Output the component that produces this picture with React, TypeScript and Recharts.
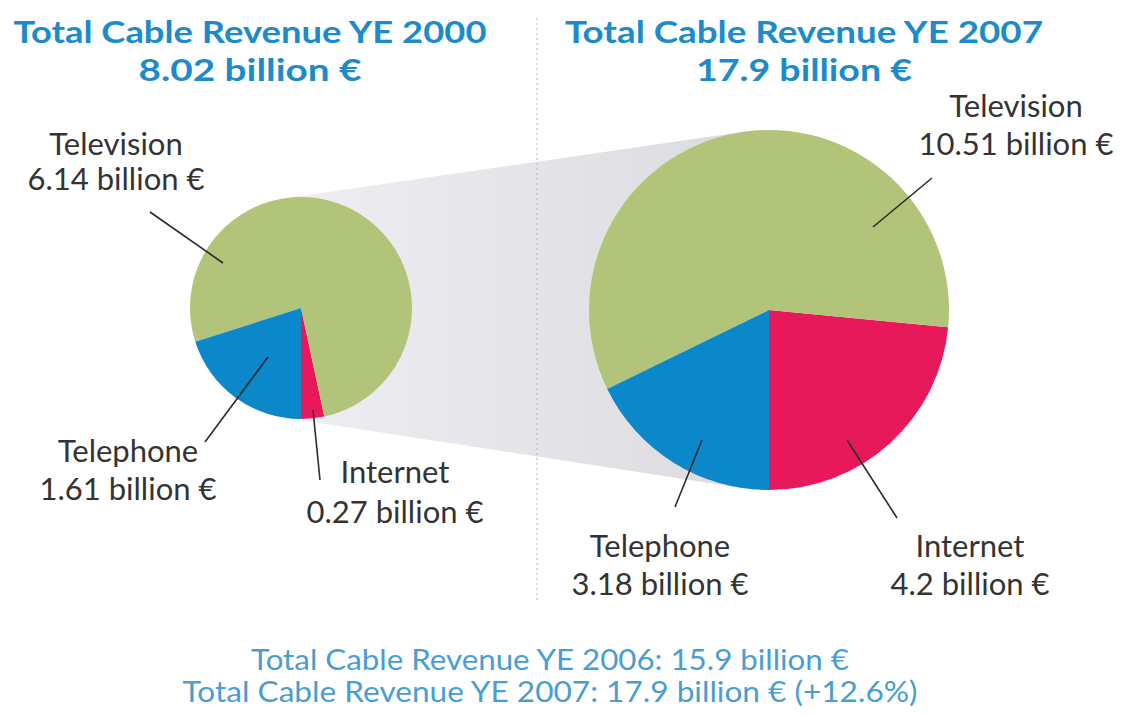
import React from 'react';
import { PieChart, Pie, Cell } from 'recharts';

// ---- data ----
const categories = ['Internet', 'Television', 'Telephone'];
const values2000 = [0.27, 6.14, 1.61];
const values2007 = [4.2, 10.51, 3.18];
const years = ['2000', '2007'];
const totalLabels = ['8.02', '17.9'];
const footerLines = [
  'Total Cable Revenue YE 2006: 15.9 billion €',
  'Total Cable Revenue YE 2007: 17.9 billion € (+12.6%)',
];

const data2000 = categories.map((name, i) => ({ name, value: values2000[i] }));
const data2007 = categories.map((name, i) => ({ name, value: values2007[i] }));

// ---- styles / layout ----
const COLORS: Record<string, string> = {
  Internet: '#e8195b',
  Television: '#b2c47a',
  Telephone: '#0a88c9',
};
const W = 1121;
const H = 715;
const FONT = 'Lato, "Open Sans", sans-serif';
const TITLE_COLOR = '#1b8bcb';
const FOOT_COLOR = '#4a9dd0';
const LABEL_COLOR = '#333333';

const LEFT = { cx: 301, cy: 308, r: 111 };
const RIGHT = { cx: 769, cy: 310, r: 180 };

type LabelLayout = Record<string, { line: number[]; tx: number; ty1: number; ty2: number }>;

const layoutLeft: LabelLayout = {
  Television: { line: [-151, -96, -78, -45], tx: -185, ty1: -153, ty2: -118 },
  Telephone: { line: [-33, 49, -96, 134], tx: -173, ty1: 154, ty2: 192 },
  Internet: { line: [12, 102, 19, 172], tx: 94, ty1: 175, ty2: 215 },
};
const layoutRight: LabelLayout = {
  Television: { line: [104, -83, 163, -132], tx: 247, ty1: -193, ty2: -155 },
  Telephone: { line: [-67, 130, -94, 197], tx: -109, ty1: 247, ty2: 285 },
  Internet: { line: [78, 130, 128, 208], tx: 201, ty1: 247, ty2: 285 },
};

const titleSpecs = [
  { cx: 250, w1: 473, w2: 223 },
  { cx: 804, w1: 478, w2: 216 },
];

const makeLabel = (layout: LabelLayout) => (props: any) => {
  const { cx, cy, name, value } = props;
  const l = layout[name];
  if (!l) return null;
  return (
    <g key={`lbl-${name}`}>
      <line
        x1={cx + l.line[0]}
        y1={cy + l.line[1]}
        x2={cx + l.line[2]}
        y2={cy + l.line[3]}
        stroke="#2b2b2b"
        strokeWidth={1.6}
      />
      <text x={cx + l.tx} y={cy + l.ty1} textAnchor="middle" fill={LABEL_COLOR} fontFamily={FONT} fontSize={31}>
        {name}
      </text>
      <text x={cx + l.tx} y={cy + l.ty2} textAnchor="middle" fill={LABEL_COLOR} fontFamily={FONT} fontSize={31}>
        {`${value} billion €`}
      </text>
    </g>
  );
};

function tangentBand(a: typeof LEFT, b: typeof LEFT): string {
  const dx = b.cx - a.cx;
  const dy = b.cy - a.cy;
  const d = Math.hypot(dx, dy);
  const theta = Math.atan2(dy, dx);
  const g = Math.acos((a.r - b.r) / d);
  const pts: number[][] = [];
  const p1 = theta - g;
  const p2 = theta + g;
  pts.push([a.cx + a.r * Math.cos(p1), a.cy + a.r * Math.sin(p1)]);
  pts.push([b.cx + b.r * Math.cos(p1), b.cy + b.r * Math.sin(p1)]);
  pts.push([b.cx + b.r * Math.cos(p2), b.cy + b.r * Math.sin(p2)]);
  pts.push([a.cx + a.r * Math.cos(p2), a.cy + a.r * Math.sin(p2)]);
  return pts.map((p) => p.join(',')).join(' ');
}

export default function App() {
  return (
    <div style={{ position: 'absolute', left: 0, top: 0, width: W, height: H, background: '#ffffff', overflow: 'hidden' }}>
      <svg width={W} height={H} style={{ position: 'absolute', left: 0, top: 0 }}>
        <defs>
          <linearGradient id="bandGrad" x1="0" y1="0" x2="1" y2="0">
            <stop offset="0%" stopColor="#efeef2" />
            <stop offset="100%" stopColor="#dcdbe0" />
          </linearGradient>
        </defs>
        <polygon points={tangentBand(LEFT, RIGHT)} fill="url(#bandGrad)" />
        <line x1={537} y1={18} x2={537} y2={602} stroke="#b5b5b5" strokeWidth={1} strokeDasharray="2,3" />
        {years.map((y, i) => (
          <g key={y}>
            <text
              x={titleSpecs[i].cx}
              y={43}
              textAnchor="middle"
              fill={TITLE_COLOR}
              fontFamily={FONT}
              fontWeight={700}
              fontSize={31}
              textLength={titleSpecs[i].w1}
              lengthAdjust="spacingAndGlyphs"
            >
              {`Total Cable Revenue YE ${y}`}
            </text>
            <text
              x={titleSpecs[i].cx}
              y={81}
              textAnchor="middle"
              fill={TITLE_COLOR}
              fontFamily={FONT}
              fontWeight={700}
              fontSize={31}
              textLength={titleSpecs[i].w2}
              lengthAdjust="spacingAndGlyphs"
            >
              {`${totalLabels[i]} billion €`}
            </text>
          </g>
        ))}
        {footerLines.map((t, i) => (
          <text
            key={t}
            x={550}
            y={670 + i * 32}
            textAnchor="middle"
            fill={FOOT_COLOR}
            fontFamily={FONT}
            fontSize={29}
            textLength={i === 0 ? 598 : 735}
            lengthAdjust="spacingAndGlyphs"
          >
            {t}
          </text>
        ))}
      </svg>
      <div style={{ position: 'absolute', left: 0, top: 0 }}>
        <PieChart width={W} height={H} margin={{ top: 0, right: 0, bottom: 0, left: 0 }}>
          <Pie
            data={data2000}
            dataKey="value"
            nameKey="name"
            cx={LEFT.cx}
            cy={LEFT.cy}
            outerRadius={LEFT.r}
            innerRadius={0}
            startAngle={-90}
            endAngle={270}
            stroke="none"
            isAnimationActive={false}
            labelLine={false}
            label={makeLabel(layoutLeft)}
          >
            {data2000.map((d) => (
              <Cell key={d.name} fill={COLORS[d.name]} />
            ))}
          </Pie>
          <Pie
            data={data2007}
            dataKey="value"
            nameKey="name"
            cx={RIGHT.cx}
            cy={RIGHT.cy}
            outerRadius={RIGHT.r}
            innerRadius={0}
            startAngle={-90}
            endAngle={270}
            stroke="none"
            isAnimationActive={false}
            labelLine={false}
            label={makeLabel(layoutRight)}
          >
            {data2007.map((d) => (
              <Cell key={d.name} fill={COLORS[d.name]} />
            ))}
          </Pie>
        </PieChart>
      </div>
    </div>
  );
}
